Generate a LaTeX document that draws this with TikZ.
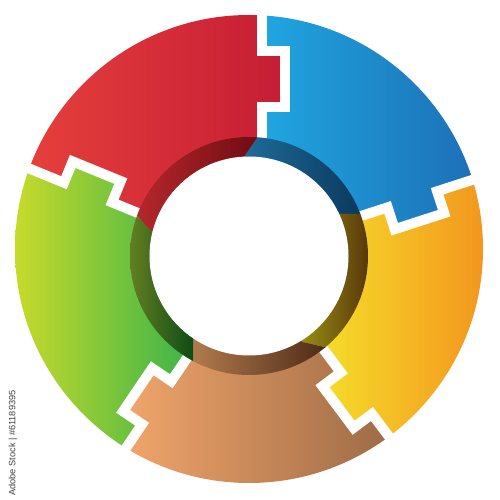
\documentclass[tikz,border=0pt]{standalone}
\usepackage{fontspec}
\setmainfont{Liberation Sans}
\usetikzlibrary{calc}
\definecolor{redL}{HTML}{E8413C}
\definecolor{redR}{HTML}{C41C34}
\definecolor{blueL}{HTML}{20A8E2}
\definecolor{blueR}{HTML}{1C6DB4}
\definecolor{oraL}{HTML}{F6E22B}
\definecolor{oraR}{HTML}{F3961E}
\definecolor{broL}{HTML}{F2A66B}
\definecolor{broR}{HTML}{9C6A45}
\definecolor{greL}{HTML}{C8DA2B}
\definecolor{greR}{HTML}{38B34A}
\definecolor{rredL}{HTML}{B8292C}
\definecolor{rredR}{HTML}{6E0B12}
\definecolor{rblueL}{HTML}{1E6E9C}
\definecolor{rblueR}{HTML}{0A355A}
\definecolor{roraL}{HTML}{9A9012}
\definecolor{roraR}{HTML}{5A380C}
\definecolor{rbroL}{HTML}{B37C4E}
\definecolor{rbroR}{HTML}{4C2A16}
\definecolor{rgreL}{HTML}{627E22}
\definecolor{rgreR}{HTML}{0A4A14}
\newcommand{\mkbdry}[6]{%
  \begin{scope}[shift={(#2,#3)},rotate=#4]
    \coordinate (#1-0) at (-20,0);
    \coordinate (#1-1) at (#5,0);
    \coordinate (#1-2) at (#5,-23);
    \coordinate (#1-3) at (#6,-23);
    \coordinate (#1-4) at (#6,0);
    \coordinate (#1-5) at (150,0);
  \end{scope}}
\tikzset{gapline/.style={draw=white,line width=10pt,line join=miter}}
\begin{document}
\begin{tikzpicture}[x=1pt,y=1pt]
\useasboundingbox (0,0) rectangle (500,500);
\coordinate (C) at (249,244);
\coordinate (O) at (249,251);
% piece boundaries
\mkbdry{B1}{262}{363}{90}{30}{86}
\mkbdry{B2}{361}{284}{17.98}{28}{80}
\mkbdry{B3}{324}{150}{-53.13}{28}{80}
\mkbdry{B4}{187}{142}{-124.13}{28}{80}
\mkbdry{B5}{138}{287}{157.75}{28}{80}
% outer pieces
\begin{scope}
\clip (O) circle (234);
\begin{scope}
\clip (C) -- (B5-0) -- (B5-1) -- (B5-2) -- (B5-3) -- (B5-4) -- (B5-5) -- ($(C)+(124:400)$) -- (B1-5) -- (B1-4) -- (B1-3) -- (B1-2) -- (B1-1) -- (B1-0) -- cycle;
\shade[left color=redL,right color=redR] (14,200) rectangle (292,490);
\end{scope}
\begin{scope}
\clip (C) -- (B1-0) -- (B1-1) -- (B1-2) -- (B1-3) -- (B1-4) -- (B1-5) -- ($(C)+(54:400)$) -- (B2-5) -- (B2-4) -- (B2-3) -- (B2-2) -- (B2-1) -- (B2-0) -- cycle;
\shade[left color=blueL,right color=blueR] (255,200) rectangle (484,490);
\end{scope}
\begin{scope}
\clip (C) -- (B2-0) -- (B2-1) -- (B2-2) -- (B2-3) -- (B2-4) -- (B2-5) -- ($(C)+(-18:400)$) -- (B3-5) -- (B3-4) -- (B3-3) -- (B3-2) -- (B3-1) -- (B3-0) -- cycle;
\shade[left color=oraL,right color=oraR] (310,40) rectangle (484,330);
\end{scope}
\begin{scope}
\clip (C) -- (B3-0) -- (B3-1) -- (B3-2) -- (B3-3) -- (B3-4) -- (B3-5) -- ($(C)+(-90:400)$) -- (B4-5) -- (B4-4) -- (B4-3) -- (B4-2) -- (B4-1) -- (B4-0) -- cycle;
\shade[left color=broL,right color=broR] (120,14) rectangle (395,180);
\end{scope}
\begin{scope}
\clip (C) -- (B4-0) -- (B4-1) -- (B4-2) -- (B4-3) -- (B4-4) -- (B4-5) -- ($(C)+(198:400)$) -- (B5-5) -- (B5-4) -- (B5-3) -- (B5-2) -- (B5-1) -- (B5-0) -- cycle;
\shade[left color=greL,right color=greR] (14,40) rectangle (195,340);
\end{scope}
\end{scope}
% white gaps
\foreach \b in {B1,B2,B3,B4,B5}{
  \path[gapline] (\b-0) -- (\b-1) -- (\b-2) -- (\b-3) -- (\b-4) -- (\b-5);
}
% inner ring boundaries
\coordinate (R1i) at (244,343); \coordinate (R1o) at (257,362); \coordinate (R1e) at (270,381);
\coordinate (R2i) at (339,286); \coordinate (R2o) at (360,286); \coordinate (R2e) at (380,286);
\coordinate (R3i) at (302,158); \coordinate (R3o) at (325,153); \coordinate (R3e) at (348,148);
\coordinate (R4i) at (193,162); \coordinate (R4o) at (193,139); \coordinate (R4e) at (193,116);
\coordinate (R5i) at (151,269); \coordinate (R5o) at (137,284); \coordinate (R5e) at (123,299);
\begin{scope}
\clip (C) circle (119);
\begin{scope}
\clip (C) -- (R5i) -- (R5o) -- (R5e) -- ($(C)+(124:300)$) -- (R1e) -- (R1o) -- (R1i) -- cycle;
\shade[left color=rredL,right color=rredR] (130,260) rectangle (262,364);
\end{scope}
\begin{scope}
\clip (C) -- (R1i) -- (R1o) -- (R1e) -- ($(C)+(54:300)$) -- (R2e) -- (R2o) -- (R2i) -- cycle;
\shade[left color=rblueL,right color=rblueR] (240,280) rectangle (368,364);
\end{scope}
\begin{scope}
\clip (C) -- (R2i) -- (R2o) -- (R2e) -- ($(C)+(-18:300)$) -- (R3e) -- (R3o) -- (R3i) -- cycle;
\shade[left color=roraL,right color=roraR] (300,150) rectangle (368,290);
\end{scope}
\begin{scope}
\clip (C) -- (R3i) -- (R3o) -- (R3e) -- ($(C)+(-90:300)$) -- (R4e) -- (R4o) -- (R4i) -- cycle;
\shade[left color=rbroL,right color=rbroR] (190,124) rectangle (328,165);
\end{scope}
\begin{scope}
\clip (C) -- (R4i) -- (R4o) -- (R4e) -- ($(C)+(198:300)$) -- (R5e) -- (R5o) -- (R5i) -- cycle;
\shade[left color=rgreL,right color=rgreR] (130,135) rectangle (196,290);
\end{scope}
\end{scope}
\fill[white] (C) circle (99.5);
\node[rotate=90,inner sep=0pt,text=black!75,font=\fontsize{9.2}{11}\selectfont] (stamp) at (13,57) {Adobe Stock | \#61189395};
\end{tikzpicture}
\end{document}
